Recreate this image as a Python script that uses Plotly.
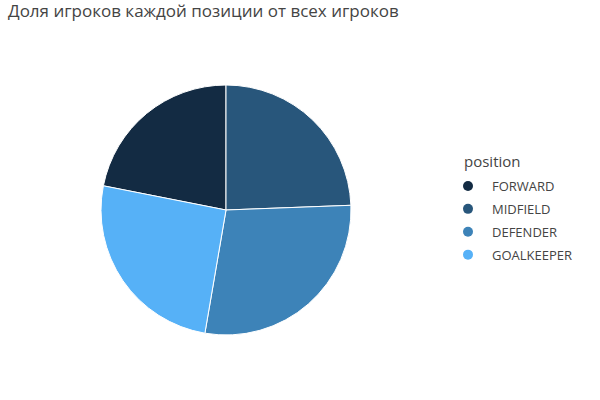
import plotly.graph_objects as go

positions = ["FORWARD", "MIDFIELD", "DEFENDER", "GOALKEEPER"]
counts = [219, 244, 283, 254]
colors = ["#132B43", "#28567B", "#3D83B8", "#56B1F7"]
legend_title = "position"
title_text = "Доля игроков каждой позиции от всех игроков"

total = sum(counts)
rotation = -360 * counts[0] / total

W, H = 600, 400

fig = go.Figure()
fig.add_trace(go.Pie(
    labels=positions, values=counts, sort=False, direction="clockwise",
    rotation=rotation, textinfo="none", showlegend=False,
    marker=dict(colors=colors, line=dict(color="white", width=1)),
    domain=dict(x=[101 / W, 351 / W], y=[1 - 335 / H, 1 - 85 / H]),
))
for name, col in zip(positions, colors):
    fig.add_trace(go.Scatter(
        x=[None], y=[None], mode="markers", name=name, legendgroup=name,
        marker=dict(color=col, size=10, symbol="circle"),
    ))

fig.add_annotation(text=legend_title, xref="paper", yref="paper",
                   x=462 / W, xanchor="left", y=1 - 161 / H, yanchor="middle",
                   showarrow=False, font=dict(size=15, color="#444"))

fig.update_layout(
    width=W, height=H,
    margin=dict(l=0, r=0, t=0, b=0),
    paper_bgcolor="white", plot_bgcolor="white",
    font=dict(family="Open Sans", color="#444"),
    title=dict(text=title_text,
               x=8 / W, xanchor="left", xref="container",
               y=1 - 11 / H, yanchor="middle", yref="container",
               font=dict(size=17)),
    legend=dict(x=444 / W, xanchor="left", y=1 - 220.5 / H, yanchor="middle",
                font=dict(size=13), itemwidth=38, tracegroupgap=3,
                traceorder="grouped"),
    xaxis=dict(visible=False), yaxis=dict(visible=False),
)
fig.write_html("out.html", config={"displayModeBar": False},
               post_script="document.body.style.margin='0';")
